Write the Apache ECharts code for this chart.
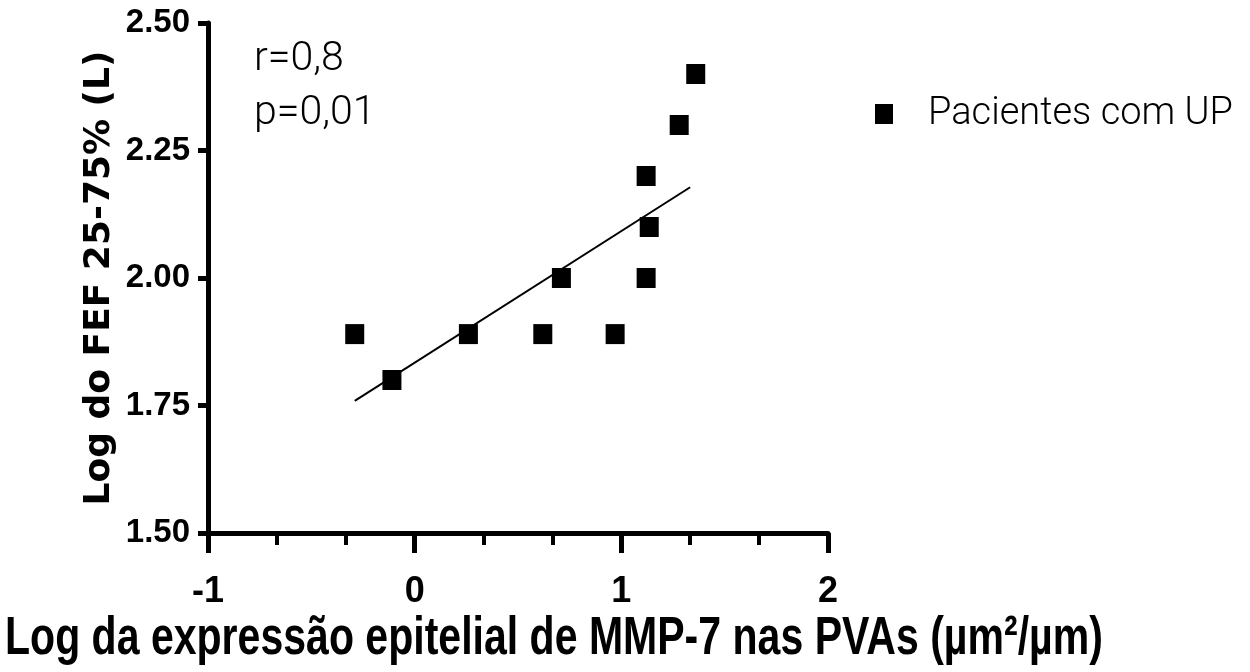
<!DOCTYPE html>
<html>
<head>
<meta charset="utf-8">
<script src="https://cdn.jsdelivr.net/npm/echarts@6/dist/echarts.min.js"></script>
<style>
html, body { margin: 0; padding: 0; background: #fff; }
#chart_Main { width: 1250px; height: 672px; }
</style>
</head>
<body>
<div id="chart_Main"></div>
<script>
// pontos dos pacientes (log MMP-7, log FEF 25-75%)
var pacX = [-0.29, -0.11, 0.26, 0.62, 0.71, 0.97, 1.12, 1.135, 1.12, 1.28, 1.36];
var pacY = [1.89, 1.80, 1.89, 1.89, 2.00, 1.89, 2.20, 2.10, 2.00, 2.30, 2.40];
// reta de regressao
var fitX = [-0.29, 1.333];
var fitY = [1.759, 2.178];
var xTicks = [-1, 0, 1, 2];
var yTicks = [1.50, 1.75, 2.00, 2.25, 2.50];

var boldFont = '"Liberation Sans", Arial, sans-serif';
var thinFont = 'Roboto, "Liberation Sans", sans-serif';

var chart_Main = echarts.init(document.getElementById('chart_Main'));

var dataPac = [];
for (var i = 0; i < pacX.length; i++) {
    dataPac.push([pacX[i], pacY[i]]);
}
var dataFit = [];
for (var j = 0; j < fitX.length; j++) {
    dataFit.push([fitX[j], fitY[j]]);
}

var option = {
    animation: false,
    backgroundColor: '#fff',
    grid: { left: 208, right: 422, top: 23, bottom: 139 },
    legend: {
        left: 875,
        top: 95,
        padding: 0,
        data: [{ name: 'Pacientes com UP', icon: 'rect', itemStyle: { color: '#000', opacity: 1 } }],
        itemWidth: 18,
        itemHeight: 20,
        textStyle: {
            fontFamily: thinFont,
            fontWeight: 300,
            fontSize: 38,
            color: '#000',
            padding: [0, 0, 0, 30]
        }
    },
    xAxis: {
        type: 'value',
        min: xTicks[0],
        max: xTicks[xTicks.length - 1],
        interval: 1,
        splitLine: { show: false },
        axisLine: { onZero: false, lineStyle: { color: '#000', width: 5 } },
        axisTick: { length: 20, lineStyle: { color: '#000', width: 5 } },
        minorTick: { show: true, splitNumber: 3, length: 12, lineStyle: { color: '#000', width: 4 } },
        axisLabel: {
            margin: 41,
            color: '#000',
            fontFamily: boldFont,
            fontWeight: 'bold',
            fontSize: 36
        }
    },
    yAxis: {
        type: 'value',
        min: yTicks[0],
        max: yTicks[yTicks.length - 1],
        interval: 0.25,
        splitLine: { show: false },
        axisLine: { show: true, onZero: false, lineStyle: { color: '#000', width: 5 } },
        axisTick: { show: true, length: 10, lineStyle: { color: '#000', width: 5 } },
        axisLabel: {
            margin: 18,
            color: '#000',
            fontFamily: boldFont,
            fontWeight: 'bold',
            fontSize: 33,
            formatter: function (v) { return v.toFixed(2); }
        },
        name: 'Log do FEF 25-75% (L)',
        nameLocation: 'middle',
        nameGap: 90,
        nameTextStyle: {
            color: '#000',
            fontFamily: '"DejaVu Sans", sans-serif',
            fontWeight: 'bold',
            fontSize: 36
        }
    },
    graphic: [
        {
            type: 'text',
            left: 254,
            top: 33,
            style: {
                text: 'r=0,8\np=0,01',
                fill: '#000',
                fontFamily: thinFont,
                fontWeight: 300,
                fontSize: 41,
                lineHeight: 54
            }
        },
        {
            type: 'text',
            x: 5,
            y: 612,
            scaleX: 0.76,
            style: {
                text: 'Log da expressão epitelial de MMP-7 nas PVAs (µm²/µm)',
                fill: '#000',
                fontFamily: boldFont,
                fontWeight: 'bold',
                fontSize: 54
            }
        }
    ],
    series: [
        {
            name: 'Pacientes com UP',
            type: 'scatter',
            symbol: 'rect',
            symbolSize: [19, 20],
            itemStyle: { color: '#000', opacity: 1 },
            data: dataPac
        },
        {
            name: 'regressao',
            type: 'line',
            symbol: 'none',
            lineStyle: { color: '#000', width: 2 },
            data: dataFit
        }
    ]
};

chart_Main.setOption(option);
</script>
</body>
</html>
